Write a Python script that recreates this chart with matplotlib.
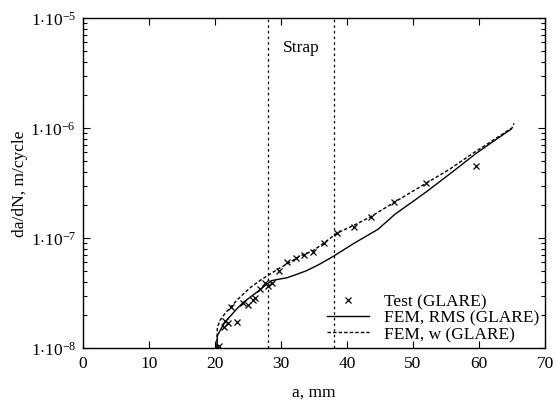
import numpy as np
import matplotlib
matplotlib.use("Agg")
import matplotlib.pyplot as plt
from matplotlib.ticker import LogLocator, NullFormatter

plt.rcParams['font.family'] = ['Liberation Serif', 'DejaVu Serif']
plt.rcParams['mathtext.fontset'] = 'custom'
plt.rcParams['mathtext.rm'] = 'Liberation Serif'
plt.rcParams['mathtext.it'] = 'Liberation Serif:italic'

# test data (GLARE)
test_a = [20.6, 21.3, 21.5, 21.9, 22.5, 23.4, 24.2, 25.0, 25.7, 26.1, 26.8, 27.6,
          28.1, 28.6, 29.7, 30.9, 32.2, 33.5, 34.9, 36.5, 38.5, 41.0, 43.6, 47.1,
          52.0, 59.5]
test_dadn = [1.05e-8, 1.54e-8, 1.77e-8, 1.7e-8, 2.34e-8, 1.74e-8, 2.57e-8, 2.46e-8,
             2.74e-8, 2.87e-8, 3.45e-8, 3.9e-8, 3.65e-8, 3.9e-8, 5.0e-8, 6.0e-8,
             6.6e-8, 7.0e-8, 7.4e-8, 9.1e-8, 1.12e-7, 1.25e-7, 1.54e-7, 2.11e-7,
             3.15e-7, 4.47e-7]

# FEM, RMS
rms_a = [20.3, 20.35, 20.8, 21.5, 22.5, 23.4, 24.3, 25.5, 26.6, 27.6, 28.6, 29.5,
         30.9, 32.5, 33.9, 35.9, 37.9, 41.0, 44.7, 47.3, 50.0, 52.1, 56.0, 59.6, 62.5, 64.9]
rms_dadn = [1.0e-8, 1.29e-8, 1.45e-8, 1.72e-8, 2.0e-8, 2.3e-8, 2.6e-8, 2.95e-8,
            3.3e-8, 3.7e-8, 4.1e-8, 4.2e-8, 4.35e-8, 4.7e-8, 5.05e-8, 5.8e-8,
            6.8e-8, 8.9e-8, 1.2e-7, 1.65e-7, 2.15e-7, 2.65e-7, 4.0e-7, 5.9e-7, 7.8e-7, 9.8e-7]

# FEM, w
w_a = [20.3, 20.35, 20.8, 21.5, 22.5, 23.4, 24.3, 25.5, 26.8, 28.1, 29.5, 30.9,
       32.8, 34.9, 36.5, 38.5, 41.0, 43.6, 47.1, 52.0, 55.5, 59.1, 62.5, 65.0, 65.3]
w_dadn = [1.0e-8, 1.54e-8, 1.8e-8, 2.05e-8, 2.4e-8, 2.75e-8, 3.1e-8, 3.6e-8,
          4.1e-8, 4.6e-8, 5.2e-8, 5.8e-8, 6.8e-8, 7.7e-8, 9.0e-8, 1.11e-7,
          1.3e-7, 1.56e-7, 2.1e-7, 3.15e-7, 4.2e-7, 5.9e-7, 8.0e-7, 1.0e-6, 1.1e-6]

strap_edges = [28, 38]
yticks = [1e-8, 1e-7, 1e-6, 1e-5]
ytick_labels = [r'$1{\cdot}10^{-8}$', r'$1{\cdot}10^{-7}$', r'$1{\cdot}10^{-6}$', r'$1{\cdot}10^{-5}$']

fs = 12.5

fig = plt.figure(figsize=(5.55, 4.06), dpi=100)
ax = fig.add_axes([0.1495, 0.1404, 0.8325, 0.8128])

ax.plot(test_a, test_dadn, 'x', color='black', ms=4.5, mew=0.9, label='Test (GLARE)')
ax.plot(rms_a, rms_dadn, '-', color='black', lw=1.0, label='FEM, RMS (GLARE)')
ax.plot(w_a, w_dadn, color='black', lw=1.0, ls=(0, (2.5, 1.5)), label='FEM, w (GLARE)')

for xs in strap_edges:
    ax.axvline(xs, color='black', lw=0.9, ls=(0, (2, 2.5)))
ax.text(33, 5.5e-6, 'Strap', ha='center', va='center', fontsize=fs)

ax.set_yscale('log')
ax.set_xlim(0, 70)
ax.set_ylim(1e-8, 1e-5)
ax.set_xticks(range(0, 71, 10))
ax.set_yticks(yticks)
ax.set_yticklabels(ytick_labels)
ax.yaxis.set_minor_locator(LogLocator(base=10, subs=np.arange(2, 10)))
ax.yaxis.set_minor_formatter(NullFormatter())
ax.tick_params(which='both', direction='in', top=True, right=True, labelsize=fs, width=0.8)
ax.tick_params(which='major', length=5, pad=5)
ax.tick_params(which='minor', length=3)
for s in ax.spines.values():
    s.set_linewidth(1.0)

ax.set_xlabel('a, mm', fontsize=fs, labelpad=9)
ax.set_ylabel('da/dN, m/cycle', fontsize=fs, labelpad=2)

ax.legend(loc='lower right', frameon=False, fontsize=fs, handlelength=2.4,
          handletextpad=0.85, labelspacing=0.0, borderaxespad=0.15, borderpad=0.2)

fig.savefig('out.png', dpi=100)
